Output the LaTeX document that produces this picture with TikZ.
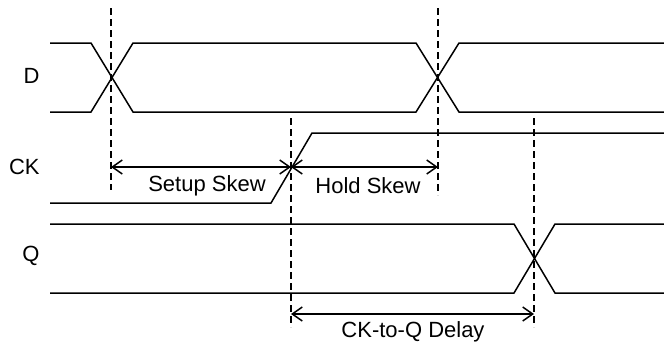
\documentclass[tikz,border=0pt]{standalone}
\usepackage{fontspec}
\setmainfont{Liberation Sans}
\usetikzlibrary{arrows.meta}
\begin{document}
\begin{tikzpicture}[x=0.5pt,y=-0.5pt,
  wave/.style={line width=0.75pt, line join=miter},
  guide/.style={line width=0.75pt, dash pattern=on 3.5pt off 2pt},
  dim/.style={line width=0.75pt, {Straight Barb[length=5pt,width=7pt]}-{Straight Barb[length=5pt,width=7pt]}},
  sig/.style={anchor=east, inner sep=0pt, font=\fontsize{11}{13}\selectfont},
  lab/.style={inner sep=0pt, font=\fontsize{11}{13}\selectfont}]
\useasboundingbox (0,0) rectangle (664,345);

% signal names
\node[sig] (nD)  at (40,76)  {D};
\node[sig] (nCK) at (40,167) {CK};
\node[sig] (nQ)  at (40,256) {Q};

% D: data bus with two transitions
\draw[wave] (50,43) -- (91,43) -- (133,112) -- (416,112) -- (459,43) -- (664,43);
\draw[wave] (50,112) -- (91,112) -- (133,43) -- (416,43) -- (459,112) -- (664,112);

% CK: single rising edge
\draw[wave] (50,203) -- (271,203) -- (312,133) -- (664,133);

% Q: output bus with one transition
\draw[wave] (50,224) -- (514,224) -- (555,293) -- (664,293);
\draw[wave] (50,293) -- (514,293) -- (555,224) -- (664,224);

% timing reference lines
\coordinate (g1t) at (111,8);   \coordinate (g1b) at (111,190);
\coordinate (g2t) at (291,118); \coordinate (g2b) at (291,327);
\coordinate (g3t) at (438,8);   \coordinate (g3b) at (438,195);
\coordinate (g4t) at (534,118); \coordinate (g4b) at (534,327);
\draw[guide] (g1t) -- (g1b);
\draw[guide] (g2t) -- (g2b);
\draw[guide] (g3t) -- (g3b);
\draw[guide] (g4t) -- (g4b);

% dimension arrows
\coordinate (s1) at (111,167); \coordinate (s2) at (291,167);
\coordinate (h2) at (438,167);
\coordinate (c1) at (291,314); \coordinate (c2) at (534,314);
\draw[dim] (s1) -- (s2);
\draw[dim] (s2) -- (h2);
\draw[dim] (c1) -- (c2);

\node[lab] (tSetup) at (207,186) {Setup Skew};
\node[lab] (tHold)  at (368,186) {Hold Skew};
\node[lab] (tDelay) at (413,332) {CK-to-Q Delay};
\end{tikzpicture}
\end{document}
